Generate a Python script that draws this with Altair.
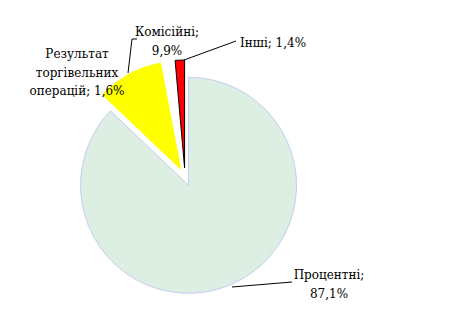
import altair as alt
import pandas as pd

categories = ["Процентні", "Комісійні", "Результат торгівельних операцій", "Інші"]
values = [87.1, 9.9, 1.6, 1.4]
colors = ["#DDEFE3", "#FFFF00", "#FFFFFF", "#FF0000"]
strokes = ["#C5CCF2", "#FFFF00", "#FFFFFF", "#000000"]

label_lines = [
    ["Процентні;", "87,1%"],
    ["Комісійні;", "9,9%"],
    ["Результат", "торгівельних", "операцій; 1,6%"],
    ["Інші; 1,4%"],
]

df = pd.DataFrame({"cat": categories, "val": values, "order": range(len(values))})

CX, CY, EXPL, R = 185, 177, 9, 108
FONT = "DejaVu Serif"

base = alt.Chart(df).transform_window(
    cum="sum(val)", sort=[alt.SortField("order")]
).transform_joinaggregate(total="sum(val)").transform_calculate(
    t1="datum.cum / datum.total * 2 * PI",
    t0="(datum.cum - datum.val) / datum.total * 2 * PI",
).transform_calculate(
    mid="(datum.t0 + datum.t1) / 2"
).transform_calculate(
    px=f"{CX} + {EXPL} * sin(datum.mid)",
    py=f"{CY} - {EXPL} * cos(datum.mid)",
)

pie = base.mark_arc(outerRadius=R, strokeWidth=1).encode(
    x=alt.X("px:Q", scale=None),
    y=alt.Y("py:Q", scale=None),
    theta=alt.Theta("t0:Q", scale=None),
    theta2="t1:Q",
    color=alt.Color("cat:N", scale=alt.Scale(domain=categories, range=colors), legend=None),
    stroke=alt.Stroke("cat:N", scale=alt.Scale(domain=categories, range=strokes), legend=None),
)

def rule(x1, y1, x2, y2):
    return alt.Chart(df).mark_rule(color="black", strokeWidth=1).encode(
        x=alt.value(x1), y=alt.value(y1), x2=alt.value(x2), y2=alt.value(y2)
    ).transform_filter("datum.order == 0")

def label(lines, x, y, align="center"):
    return alt.Chart(df).mark_text(
        font=FONT, fontSize=12, color="black", align=align, baseline="middle", lineHeight=18.5
    ).encode(x=alt.value(x), y=alt.value(y), text=alt.value(lines)).transform_filter("datum.order == 0")

layers = [
    pie,
    rule(232, 287, 292, 282),
    rule(137, 39, 132, 39),
    rule(132, 39, 128, 73),
    rule(236, 41, 184, 60),
    label(label_lines[0], 329, 275),
    label(label_lines[1], 167, 32),
    label(label_lines[2], 77, 54),
    label(label_lines[3], 240, 43, "left"),
]

chart = alt.layer(*layers).properties(
    width=473, height=314, padding=0, autosize=alt.AutoSizeParams(type="none"),
    background="white",
).configure_view(stroke=None)

chart.save("out.html", embed_options={"renderer": "svg", "actions": False})
